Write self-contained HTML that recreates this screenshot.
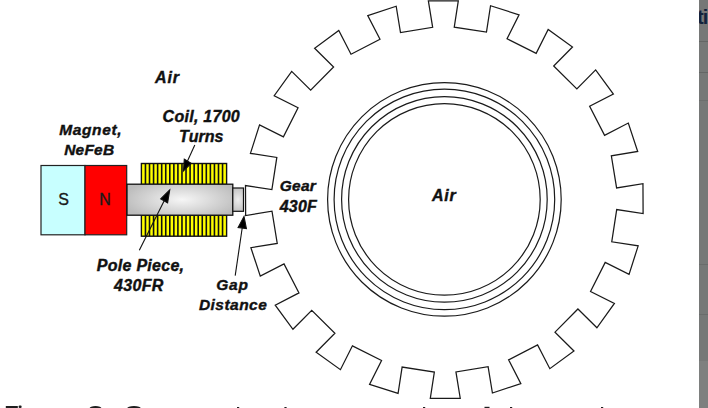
<!DOCTYPE html>
<html><head><meta charset="utf-8"><style>
html,body{margin:0;padding:0;background:#fff;width:708px;height:408px;overflow:hidden}
svg{position:absolute;left:0;top:0}
.t{position:absolute;font:italic bold 16px "Liberation Sans",sans-serif;color:#111;-webkit-text-stroke:0.4px #111;white-space:nowrap;line-height:16px}
#strip{position:absolute;left:699px;top:0;width:9px;height:408px;background:#767877;overflow:hidden}
#ti{position:absolute;left:-2px;top:6.8px;font:bold 20px "Liberation Sans",sans-serif;color:#12223c;white-space:nowrap;line-height:20px;letter-spacing:-0.8px}
</style></head><body>
<svg width="708" height="408" viewBox="0 0 708 408">
<defs>
<radialGradient id="pg" gradientUnits="userSpaceOnUse" cx="182" cy="199.5" r="60" gradientTransform="translate(182 199.5) scale(1 0.35) translate(-182 -199.5)">
<stop offset="0" stop-color="#f6f6f6"/><stop offset="1" stop-color="#bcbcbc"/></radialGradient>
<radialGradient id="tg" gradientUnits="userSpaceOnUse" cx="238" cy="199.7" r="9" gradientTransform="translate(238 199.7) scale(1 1.4) translate(-238 -199.7)">
<stop offset="0" stop-color="#eeeeee"/><stop offset="1" stop-color="#c2c2c2"/></radialGradient>
</defs>
<path d="M458.30,0.79 L454.25,27.19 L486.48,32.13 L490.53,5.73 L519.05,14.85 L507.05,38.70 L536.16,53.36 L548.17,29.51 L572.48,46.99 L553.69,65.97 L576.86,88.90 L595.65,69.93 L613.37,94.07 L589.64,106.31 L604.58,135.29 L628.31,123.05 L637.70,151.48 L611.35,155.79 L616.61,187.96 L642.96,183.66 L643.11,213.60 L616.71,209.55 L611.77,241.78 L638.17,245.83 L629.05,274.35 L605.20,262.35 L590.54,291.46 L614.39,303.47 L596.91,327.78 L577.93,308.99 L555.00,332.16 L573.97,350.95 L549.83,368.67 L537.59,344.94 L508.61,359.88 L520.85,383.61 L492.42,393.00 L488.11,366.65 L455.94,371.91 L460.24,398.26 L430.30,398.41 L434.35,372.01 L402.12,367.07 L398.07,393.47 L369.55,384.35 L381.55,360.50 L352.44,345.84 L340.43,369.69 L316.12,352.21 L334.91,333.23 L311.74,310.30 L292.95,329.27 L275.23,305.13 L298.96,292.89 L284.02,263.91 L260.29,276.15 L250.90,247.72 L277.25,243.41 L271.99,211.24 L245.64,215.54 L245.49,185.60 L271.89,189.65 L276.83,157.42 L250.43,153.37 L259.55,124.85 L283.40,136.85 L298.06,107.74 L274.21,95.73 L291.69,71.42 L310.67,90.21 L333.60,67.04 L314.63,48.25 L338.77,30.53 L351.01,54.26 L379.99,39.32 L367.75,15.59 L396.18,6.20 L400.49,32.55 L432.66,27.29 L428.36,0.94Z" fill="none" stroke="#1a1a1a" stroke-width="1.25" stroke-linejoin="miter"/>
<g fill="none" stroke="#1a1a1a" stroke-width="1.2">
<circle cx="444.4" cy="199.4" r="116.8"/>
<circle cx="444.4" cy="199.4" r="110.3"/>
<circle cx="444.4" cy="199.4" r="102.8"/>
<circle cx="444.4" cy="199.4" r="95.8"/>
</g>
<rect x="41" y="165.5" width="44" height="69.3" fill="#c8ffff" stroke="#222" stroke-width="1.2"/>
<rect x="85" y="165.5" width="41.7" height="69.3" fill="#ff0000" stroke="#222" stroke-width="1.2"/>
<rect x="141.4" y="163.5" width="85.2" height="21" fill="#ffff00" stroke="#111" stroke-width="1.4"/>
<rect x="141.4" y="215.2" width="85.2" height="21" fill="#ffff00" stroke="#111" stroke-width="1.4"/>
<g stroke="#111" stroke-width="1.6"><line x1="145.46" y1="163.5" x2="145.46" y2="184.5"/><line x1="149.51" y1="163.5" x2="149.51" y2="184.5"/><line x1="153.57" y1="163.5" x2="153.57" y2="184.5"/><line x1="157.63" y1="163.5" x2="157.63" y2="184.5"/><line x1="161.69" y1="163.5" x2="161.69" y2="184.5"/><line x1="165.74" y1="163.5" x2="165.74" y2="184.5"/><line x1="169.80" y1="163.5" x2="169.80" y2="184.5"/><line x1="173.86" y1="163.5" x2="173.86" y2="184.5"/><line x1="177.91" y1="163.5" x2="177.91" y2="184.5"/><line x1="181.97" y1="163.5" x2="181.97" y2="184.5"/><line x1="186.03" y1="163.5" x2="186.03" y2="184.5"/><line x1="190.09" y1="163.5" x2="190.09" y2="184.5"/><line x1="194.14" y1="163.5" x2="194.14" y2="184.5"/><line x1="198.20" y1="163.5" x2="198.20" y2="184.5"/><line x1="202.26" y1="163.5" x2="202.26" y2="184.5"/><line x1="206.31" y1="163.5" x2="206.31" y2="184.5"/><line x1="210.37" y1="163.5" x2="210.37" y2="184.5"/><line x1="214.43" y1="163.5" x2="214.43" y2="184.5"/><line x1="218.49" y1="163.5" x2="218.49" y2="184.5"/><line x1="222.54" y1="163.5" x2="222.54" y2="184.5"/><line x1="145.46" y1="215.2" x2="145.46" y2="236.2"/><line x1="149.51" y1="215.2" x2="149.51" y2="236.2"/><line x1="153.57" y1="215.2" x2="153.57" y2="236.2"/><line x1="157.63" y1="215.2" x2="157.63" y2="236.2"/><line x1="161.69" y1="215.2" x2="161.69" y2="236.2"/><line x1="165.74" y1="215.2" x2="165.74" y2="236.2"/><line x1="169.80" y1="215.2" x2="169.80" y2="236.2"/><line x1="173.86" y1="215.2" x2="173.86" y2="236.2"/><line x1="177.91" y1="215.2" x2="177.91" y2="236.2"/><line x1="181.97" y1="215.2" x2="181.97" y2="236.2"/><line x1="186.03" y1="215.2" x2="186.03" y2="236.2"/><line x1="190.09" y1="215.2" x2="190.09" y2="236.2"/><line x1="194.14" y1="215.2" x2="194.14" y2="236.2"/><line x1="198.20" y1="215.2" x2="198.20" y2="236.2"/><line x1="202.26" y1="215.2" x2="202.26" y2="236.2"/><line x1="206.31" y1="215.2" x2="206.31" y2="236.2"/><line x1="210.37" y1="215.2" x2="210.37" y2="236.2"/><line x1="214.43" y1="215.2" x2="214.43" y2="236.2"/><line x1="218.49" y1="215.2" x2="218.49" y2="236.2"/><line x1="222.54" y1="215.2" x2="222.54" y2="236.2"/></g>
<rect x="127" y="184.2" width="105.8" height="31" fill="url(#pg)" stroke="#111" stroke-width="1.3"/>
<rect x="232.8" y="188" width="10.7" height="23.3" fill="url(#tg)" stroke="#111" stroke-width="1.2"/>
<g stroke="#111" stroke-width="1.1" fill="#000">
<line x1="194.8" y1="145.1" x2="187.5" y2="161"/>
<path d="M183.5,170.8 L184.3,159.1 L191.2,163.3 Z"/>
<line x1="139.3" y1="250.2" x2="164.2" y2="200.8"/>
<path d="M169.7,190 L160.7,198.8 L167.6,202.9 Z"/>
<line x1="235.2" y1="275.6" x2="242.2" y2="228"/>
<path d="M244,216.4 L238.1,227.5 L246.4,228.5 Z"/>
</g>
<text x="63.5" y="204.7" font-family="Liberation Sans" font-size="16" fill="#1a1a1a" stroke="#1a1a1a" stroke-width="0.35" text-anchor="middle">S</text>
<text x="105" y="204.7" font-family="Liberation Sans" font-size="16" fill="#1a1a1a" stroke="#1a1a1a" stroke-width="0.35" text-anchor="middle">N</text>
<g fill="#1e1e1e"><rect x="5.8" y="406" width="12" height="2"/><rect x="18.6" y="405.6" width="3" height="2.4" rx="1"/><ellipse cx="95.5" cy="408.6" rx="6" ry="2.6"/><ellipse cx="134" cy="408.8" rx="7" ry="2.8"/><rect x="237" y="407" width="2.2" height="1"/><rect x="284.4" y="407" width="2.2" height="1"/><rect x="423" y="407" width="2.2" height="1"/><rect x="484.5" y="406.8" width="5" height="1.2"/><rect x="510" y="407" width="2.2" height="1"/><rect x="601" y="407" width="2.2" height="1"/></g>
</svg>
<div class="t" style="left:154.9px;top:69.5px;letter-spacing:0.95px;font-size:16.0px">Air</div>
<div class="t" style="left:162.6px;top:109.3px;letter-spacing:0.27px;font-size:16.0px">Coil, 1700</div>
<div class="t" style="left:179.1px;top:128.5px;letter-spacing:0.05px;font-size:16.0px">Turns</div>
<div class="t" style="left:59.2px;top:122.3px;letter-spacing:0.63px;font-size:15.5px">Magnet,</div>
<div class="t" style="left:64.2px;top:142.0px;letter-spacing:0.2px;font-size:15.5px">NeFeB</div>
<div class="t" style="left:96.8px;top:258.1px;letter-spacing:0.27px;font-size:16.0px">Pole Piece,</div>
<div class="t" style="left:114.0px;top:277.6px;letter-spacing:0.35px;font-size:16.0px">430FR</div>
<div class="t" style="left:216.3px;top:277.3px;letter-spacing:0.75px;font-size:15.5px">Gap</div>
<div class="t" style="left:198.9px;top:297.3px;letter-spacing:0.47px;font-size:15.5px">Distance</div>
<div class="t" style="left:279.7px;top:178.0px;letter-spacing:0.27px;font-size:15.5px">Gear</div>
<div class="t" style="left:279.7px;top:198.9px;letter-spacing:0.2px;font-size:16.0px">430F</div>
<div class="t" style="left:432.0px;top:188.2px;letter-spacing:0.75px;font-size:16.0px">Air</div>
<div id="strip"><div style="position:absolute;left:0;top:361px;width:9px;height:47px;background:#7e807f"></div><div style="position:absolute;left:0;top:41px;width:9px;height:1px;background:#646665"></div><div style="position:absolute;left:0;top:72px;width:9px;height:1px;background:#646665"></div><div style="position:absolute;left:0;top:100px;width:9px;height:1px;background:#6c6e6d"></div><div style="position:absolute;left:0;top:264px;width:9px;height:1px;background:#6a6c6b"></div><div style="position:absolute;left:0;top:314px;width:9px;height:1px;background:#6a6c6b"></div><div id="ti">ti</div></div>
</body></html>
